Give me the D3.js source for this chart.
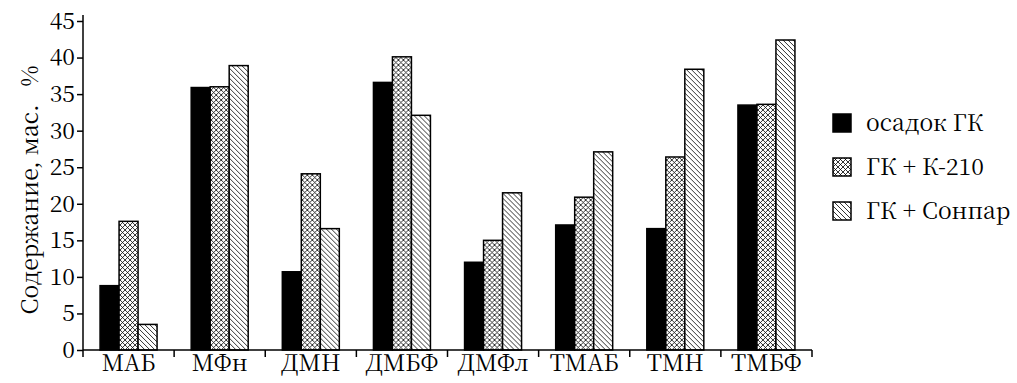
<!DOCTYPE html>
<html>
<head>
<meta charset="utf-8">
<script src="https://cdn.jsdelivr.net/npm/d3@7"></script>
<style>
  body { margin: 0; background: #fff; }
</style>
</head>
<body>
<svg id="chart" width="1017" height="383"></svg>
<script>
const categories = ['МАБ', 'МФн', 'ДМН', 'ДМБФ', 'ДМФл', 'ТМАБ', 'ТМН', 'ТМБФ'];
const seriesNames = ['осадок ГК', 'ГК + К-210', 'ГК + Сонпар'];
const sediment = [8.8, 35.9, 10.7, 36.6, 12.0, 17.1, 16.6, 33.5];
const k210 = [17.6, 36.0, 24.1, 40.1, 15.0, 20.9, 26.4, 33.6];
const sonpar = [3.5, 38.9, 16.6, 32.1, 21.5, 27.1, 38.4, 42.4];
const yTicks = [0, 5, 10, 15, 20, 25, 30, 35, 40, 45];

const svg = d3.select('#chart');
const fontSize = '23px';
const fontFamily = '"Noto Serif CJK SC"';

// patterns
const defs = svg.append('defs');
const cross = defs.append('pattern')
  .attr('id', 'cross')
  .attr('patternUnits', 'userSpaceOnUse')
  .attr('width', 5).attr('height', 5);
cross.append('rect').attr('width', 5).attr('height', 5).attr('fill', '#fff');
cross.append('path')
  .attr('d', 'M0,0L5,5M5,0L0,5')
  .attr('stroke', '#000').attr('stroke-width', 0.8);

const hatch = defs.append('pattern')
  .attr('id', 'hatch')
  .attr('patternUnits', 'userSpaceOnUse')
  .attr('width', 5).attr('height', 5);
hatch.append('rect').attr('width', 5).attr('height', 5).attr('fill', '#fff');
hatch.append('path')
  .attr('d', 'M0,0L5,5M-1,4L1,6M4,-1L6,1')
  .attr('stroke', '#000').attr('stroke-width', 0.8);

const fills = ['#000', 'url(#cross)', 'url(#hatch)'];

const x = d3.scaleBand()
  .domain(categories)
  .range([83, 812]);

const inner = d3.scaleBand()
  .domain([0, 1, 2])
  .range([0, 57]);

const y = d3.scaleLinear()
  .domain([0, 45])
  .range([350, 21]);

const data = categories.map((c, i) => ({
  cat: c,
  values: [sediment[i], k210[i], sonpar[i]]
}));

// bars
const groups = svg.append('g')
  .selectAll('g')
  .data(data)
  .join('g')
  .attr('transform', d => `translate(${x(d.cat) + (x.bandwidth() - 57) / 2},0)`);

groups.selectAll('rect')
  .data(d => d.values.map((v, k) => ({ v, k })))
  .join('rect')
  .attr('x', d => inner(d.k))
  .attr('width', inner.bandwidth())
  .attr('y', d => y(d.v))
  .attr('height', d => y(0) - y(d.v))
  .attr('fill', d => fills[d.k])
  .attr('stroke', '#000')
  .attr('stroke-width', 1.5);

// y axis
const yAxis = svg.append('g')
  .attr('transform', 'translate(83,0)')
  .call(d3.axisLeft(y).tickValues(yTicks).tickSize(6).tickSizeOuter(0).tickPadding(2));
yAxis.select('.domain').attr('d', `M0,${y(0)}V${y(45) - 6}`).attr('stroke-width', 1.5);
yAxis.selectAll('.tick line').attr('stroke-width', 1.5);
yAxis.selectAll('text').style('font-size', fontSize).style('font-family', fontFamily);

// x axis
const xAxis = svg.append('g')
  .attr('transform', `translate(0,${y(0)})`)
  .call(d3.axisBottom(x).tickSize(0).tickPadding(5));
xAxis.select('.domain').attr('d', `M${x.range()[0]},0H${x.range()[1]}`).attr('stroke-width', 1.5);
xAxis.selectAll('text').style('font-size', fontSize).style('font-family', fontFamily);

const boundaries = categories.map(c => x(c)).concat([x.range()[1]]);
xAxis.selectAll('.bound')
  .data(boundaries)
  .join('line')
  .attr('class', 'bound')
  .attr('x1', d => d).attr('x2', d => d)
  .attr('y1', 0).attr('y2', 7)
  .attr('stroke', '#000').attr('stroke-width', 1.5);

// y label
svg.append('text')
  .attr('transform', 'translate(38,190) rotate(-90)')
  .attr('text-anchor', 'middle')
  .style('font-size', fontSize)
  .style('font-family', fontFamily)
  .style('white-space', 'pre')
  .text('Содержание, мас.   %');

// legend
const legend = svg.append('g')
  .selectAll('g')
  .data(seriesNames)
  .join('g')
  .attr('transform', (d, i) => `translate(833,${123 + i * 44})`);

legend.append('rect')
  .attr('x', 0).attr('y', -9)
  .attr('width', 18).attr('height', 18)
  .attr('fill', (d, i) => fills[i])
  .attr('stroke', '#000').attr('stroke-width', 1.5);

legend.append('text')
  .attr('x', 33).attr('y', 0)
  .attr('dy', '0.35em')
  .style('font-size', fontSize)
  .style('font-family', fontFamily)
  .text(d => d);
</script>
</body>
</html>
